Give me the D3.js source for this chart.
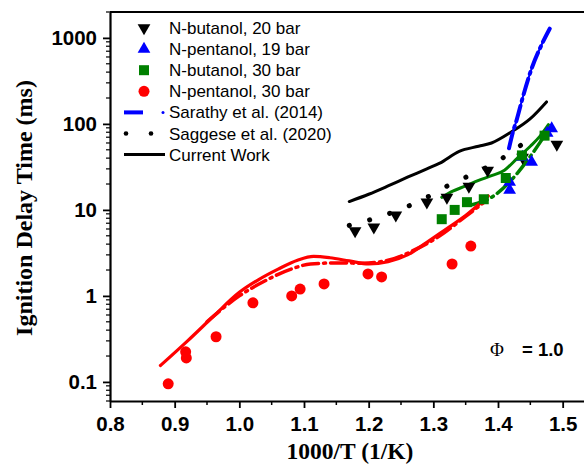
<!DOCTYPE html>
<html>
<head>
<meta charset="utf-8">
<script src="https://cdn.jsdelivr.net/npm/d3@7"></script>
<style>
  body { margin: 0; background: #fff; }
  svg { display: block; }
</style>
</head>
<body>
<div id="chart"></div>
<script>
// measured points, [1000/T, IDT ms]
var butanol20 = [[1.179, 5.7], [1.208, 6.3], [1.242, 8.7], [1.290, 12.3], [1.321, 14], [1.355, 18.8], [1.384, 28.7], [1.438, 40.8], [1.491, 57.6]];
var pentanol19 = [[1.418, 17], [1.418, 21], [1.438, 41], [1.452, 36], [1.476, 78], [1.483, 88]];
var butanol30 = [[1.313, 7.8], [1.333, 10], [1.352, 12.3], [1.378, 13.3], [1.412, 23.5], [1.437, 43], [1.472, 73]];
var pentanol30 = [[0.890, 0.095], [0.917, 0.224], [0.918, 0.19], [0.964, 0.335], [1.021, 0.83], [1.081, 1.0], [1.094, 1.2], [1.131, 1.38], [1.199, 1.8], [1.220, 1.66], [1.329, 2.35], [1.358, 3.8]];

// model curves
var currentButanol20 = [[1.17, 12.5], [1.20, 15.2], [1.23, 19], [1.26, 24], [1.29, 30], [1.31, 35], [1.34, 48], [1.37, 55], [1.39, 60], [1.42, 80], [1.45, 115], [1.475, 180]];
var saggeseButanol20 = [[1.17, 6.6], [1.21, 8.0], [1.25, 10.2], [1.29, 14], [1.33, 20.5], [1.37, 28], [1.40, 37], [1.43, 53], [1.46, 76]];
var sarathyPentanol19 = [[1.417, 52], [1.423, 80], [1.429, 112], [1.438, 200], [1.452, 440], [1.468, 850], [1.48, 1280]];
var currentPentanol19 = [[1.417, 52], [1.423, 80], [1.429, 112], [1.438, 200], [1.452, 440], [1.468, 850], [1.48, 1280]];
var currentButanol30 = [[1.313, 14], [1.33, 16.5], [1.35, 19], [1.37, 22], [1.39, 25], [1.41, 29], [1.43, 40], [1.45, 55], [1.465, 72], [1.478, 98]];
var sarathyButanol30 = [[1.36, 11.5], [1.39, 14], [1.42, 22], [1.45, 42], [1.48, 90]];
var currentPentanol30 = [[0.878, 0.155], [0.92, 0.30], [0.96, 0.58], [1.00, 1.1], [1.03, 1.55], [1.06, 2.05], [1.09, 2.6], [1.115, 2.88], [1.14, 2.78], [1.17, 2.55], [1.20, 2.35], [1.23, 2.5], [1.26, 3.0], [1.29, 4.2], [1.32, 6.0], [1.35, 8.6], [1.385, 14.5]];
var sarathyPentanol30 = [[0.95, 0.5], [1.0, 1.0], [1.04, 1.5], [1.08, 2.05], [1.11, 2.35], [1.15, 2.42], [1.19, 2.4], [1.23, 2.6], [1.27, 3.4], [1.31, 5.0], [1.35, 8.4], [1.38, 12.5]];

var xTicks = [0.8, 0.9, 1.0, 1.1, 1.2, 1.3, 1.4, 1.5];
var yTicks = [0.1, 1, 10, 100, 1000];
var legendLabels = ["N-butanol, 20 bar", "N-pentanol, 19 bar", "N-butanol, 30 bar", "N-pentanol, 30 bar", "Sarathy et al. (2014)", "Saggese et al. (2020)", "Current Work"];

var W = 584, H = 466;
var pLeft = 110, pTop = 12, pBottom = 401, pRight = 595;

var svg = d3.select('#chart').append('svg')
            .attr('width', W)
            .attr('height', H);

var x = d3.scaleLinear().domain([0.8, 1.55]).range([pLeft, pRight]);
var y = d3.scaleLog().domain([0.06, 2000]).range([pBottom, pTop]);

var sansB = "'Liberation Sans', Arial, sans-serif";
var serif = "'Liberation Serif', 'Times New Roman', serif";

// minor ticks
var xMinor = d3.range(0.85, 1.55, 0.1);
var yMinor = [];
[0.01, 0.1, 1, 10, 100, 1000].forEach(function(d) {
  for (var k = 2; k <= 9; k++) {
    var v = d * k;
    if (v >= 0.06 && v <= 2000) yMinor.push(v);
  }
});

svg.append('g').selectAll('line').data(xMinor).enter().append('line')
   .attr('x1', function(d) { return x(d); }).attr('x2', function(d) { return x(d); })
   .attr('y1', pBottom).attr('y2', pBottom + 4)
   .attr('stroke', '#000').attr('stroke-width', 1.5);

svg.append('g').selectAll('line').data(yMinor).enter().append('line')
   .attr('x1', pLeft - 4).attr('x2', pLeft)
   .attr('y1', function(d) { return y(d); }).attr('y2', function(d) { return y(d); })
   .attr('stroke', '#000').attr('stroke-width', 1.2);

// axes
var xAxis = svg.append('g')
   .attr('transform', 'translate(0,' + pBottom + ')')
   .call(d3.axisBottom(x).tickValues(xTicks).tickSize(7).tickSizeOuter(0).tickPadding(8)
         .tickFormat(d3.format('.1f')));
var yAxis = svg.append('g')
   .attr('transform', 'translate(' + pLeft + ',0)')
   .call(d3.axisLeft(y).tickValues(yTicks).tickSize(7).tickSizeOuter(0).tickPadding(6)
         .tickFormat(function(d) { return d < 1 ? '0.1' : d3.format('d')(d); }));

[xAxis, yAxis].forEach(function(a) {
  a.select('.domain').attr('stroke-width', 2.2);
  a.selectAll('.tick line').attr('stroke-width', 1.8);
  a.selectAll('text')
   .attr('font-family', sansB)
   .attr('font-weight', 'bold')
   .attr('font-size', 20.5)
   .attr('fill', '#000');
});

// top frame
svg.append('line')
   .attr('x1', pLeft).attr('x2', pRight)
   .attr('y1', pTop).attr('y2', pTop)
   .attr('stroke', '#000').attr('stroke-width', 2.2);
svg.append('line')
   .attr('x1', pRight).attr('x2', pRight)
   .attr('y1', pTop).attr('y2', pBottom)
   .attr('stroke', '#000').attr('stroke-width', 2.2);

// axis titles
svg.append('text')
   .attr('x', 350).attr('y', 459)
   .attr('text-anchor', 'middle')
   .attr('font-family', serif).attr('font-weight', 'bold').attr('font-size', 23.5)
   .text('1000/T (1/K)');
svg.append('text')
   .attr('transform', 'translate(32,208) rotate(-90)')
   .attr('text-anchor', 'middle')
   .attr('font-family', serif).attr('font-weight', 'bold').attr('font-size', 24)
   .text('Ignition Delay Time (ms)');

// lines
var line = d3.line()
   .x(function(d) { return x(d[0]); })
   .y(function(d) { return y(d[1]); })
   .curve(d3.curveMonotoneX);

var dashSar = '16,5,2,5';
var dotSag = '0.1,21';

var curves = [
  { data: currentButanol20, color: '#000', w: 3, dash: null },
  { data: saggeseButanol20, color: '#000', w: 5, dash: dotSag },
  { data: currentPentanol19, color: '#0000ff', w: 2, dash: null },
  { data: sarathyPentanol19, color: '#0000ff', w: 4, dash: dashSar },
  { data: currentButanol30, color: '#008000', w: 3, dash: null },
  { data: sarathyButanol30, color: '#008000', w: 3.5, dash: dashSar },
  { data: sarathyPentanol30, color: '#ff0000', w: 3.5, dash: dashSar },
  { data: currentPentanol30, color: '#ff0000', w: 3.2, dash: null }
];

svg.append('g').selectAll('path').data(curves).enter().append('path')
   .attr('d', function(d) { return line(d.data); })
   .attr('fill', 'none')
   .attr('stroke', function(d) { return d.color; })
   .attr('stroke-width', function(d) { return d.w; })
   .attr('stroke-linecap', 'round')
   .attr('stroke-dasharray', function(d) { return d.dash; });

// markers
var triDown = d3.symbol().type(d3.symbolTriangle).size(70);
var square = d3.symbol().type(d3.symbolSquare).size(100);

svg.append('g').selectAll('path').data(butanol20).enter().append('path')
   .attr('d', triDown)
   .attr('transform', function(d) { return 'translate(' + x(d[0]) + ',' + y(d[1]) + ') rotate(180)'; })
   .attr('fill', '#000');
svg.append('g').selectAll('path').data(pentanol19).enter().append('path')
   .attr('d', triDown)
   .attr('transform', function(d) { return 'translate(' + x(d[0]) + ',' + y(d[1]) + ')'; })
   .attr('fill', '#0000ff');
svg.append('g').selectAll('path').data(butanol30).enter().append('path')
   .attr('d', square)
   .attr('transform', function(d) { return 'translate(' + x(d[0]) + ',' + y(d[1]) + ')'; })
   .attr('fill', '#008000');
svg.append('g').selectAll('circle').data(pentanol30).enter().append('circle')
   .attr('cx', function(d) { return x(d[0]); })
   .attr('cy', function(d) { return y(d[1]); })
   .attr('r', 5.5)
   .attr('fill', '#ff0000');

// legend
var legY = function(i) { return 28 + i * 21.1; };
var leg = svg.append('g');
leg.append('path').attr('d', triDown).attr('fill', '#000')
   .attr('transform', 'translate(144,' + legY(0) + ') rotate(180)');
leg.append('path').attr('d', triDown).attr('fill', '#0000ff')
   .attr('transform', 'translate(144,' + legY(1) + ')');
leg.append('path').attr('d', square).attr('fill', '#008000')
   .attr('transform', 'translate(144,' + legY(2) + ')');
leg.append('circle').attr('cx', 144).attr('cy', legY(3)).attr('r', 5.5).attr('fill', '#ff0000');
leg.append('line').attr('x1', 124).attr('x2', 143).attr('y1', legY(4)).attr('y2', legY(4))
   .attr('stroke', '#0000ff').attr('stroke-width', 4);
leg.append('circle').attr('cx', 163).attr('cy', legY(4)).attr('r', 1.5).attr('fill', '#0000ff');
leg.append('circle').attr('cx', 126).attr('cy', legY(5)).attr('r', 2.3).attr('fill', '#000');
leg.append('circle').attr('cx', 151).attr('cy', legY(5)).attr('r', 2.3).attr('fill', '#000');
leg.append('line').attr('x1', 124).attr('x2', 165).attr('y1', legY(6)).attr('y2', legY(6))
   .attr('stroke', '#000').attr('stroke-width', 3);

leg.selectAll('text').data(legendLabels).enter().append('text')
   .attr('x', 169)
   .attr('y', function(d, i) { return legY(i) + 6; })
   .attr('font-family', "'Liberation Sans', Arial, sans-serif")
   .attr('font-size', 17)
   .text(function(d) { return d; });

// phi label
svg.append('text')
   .attr('x', 490).attr('y', 356)
   .attr('font-family', serif).attr('font-size', 19)
   .text('\u03A6');
svg.append('text')
   .attr('x', 522).attr('y', 356)
   .attr('font-family', sansB).attr('font-weight', 'bold').attr('font-size', 18.5)
   .text('= 1.0');
</script>
</body>
</html>
